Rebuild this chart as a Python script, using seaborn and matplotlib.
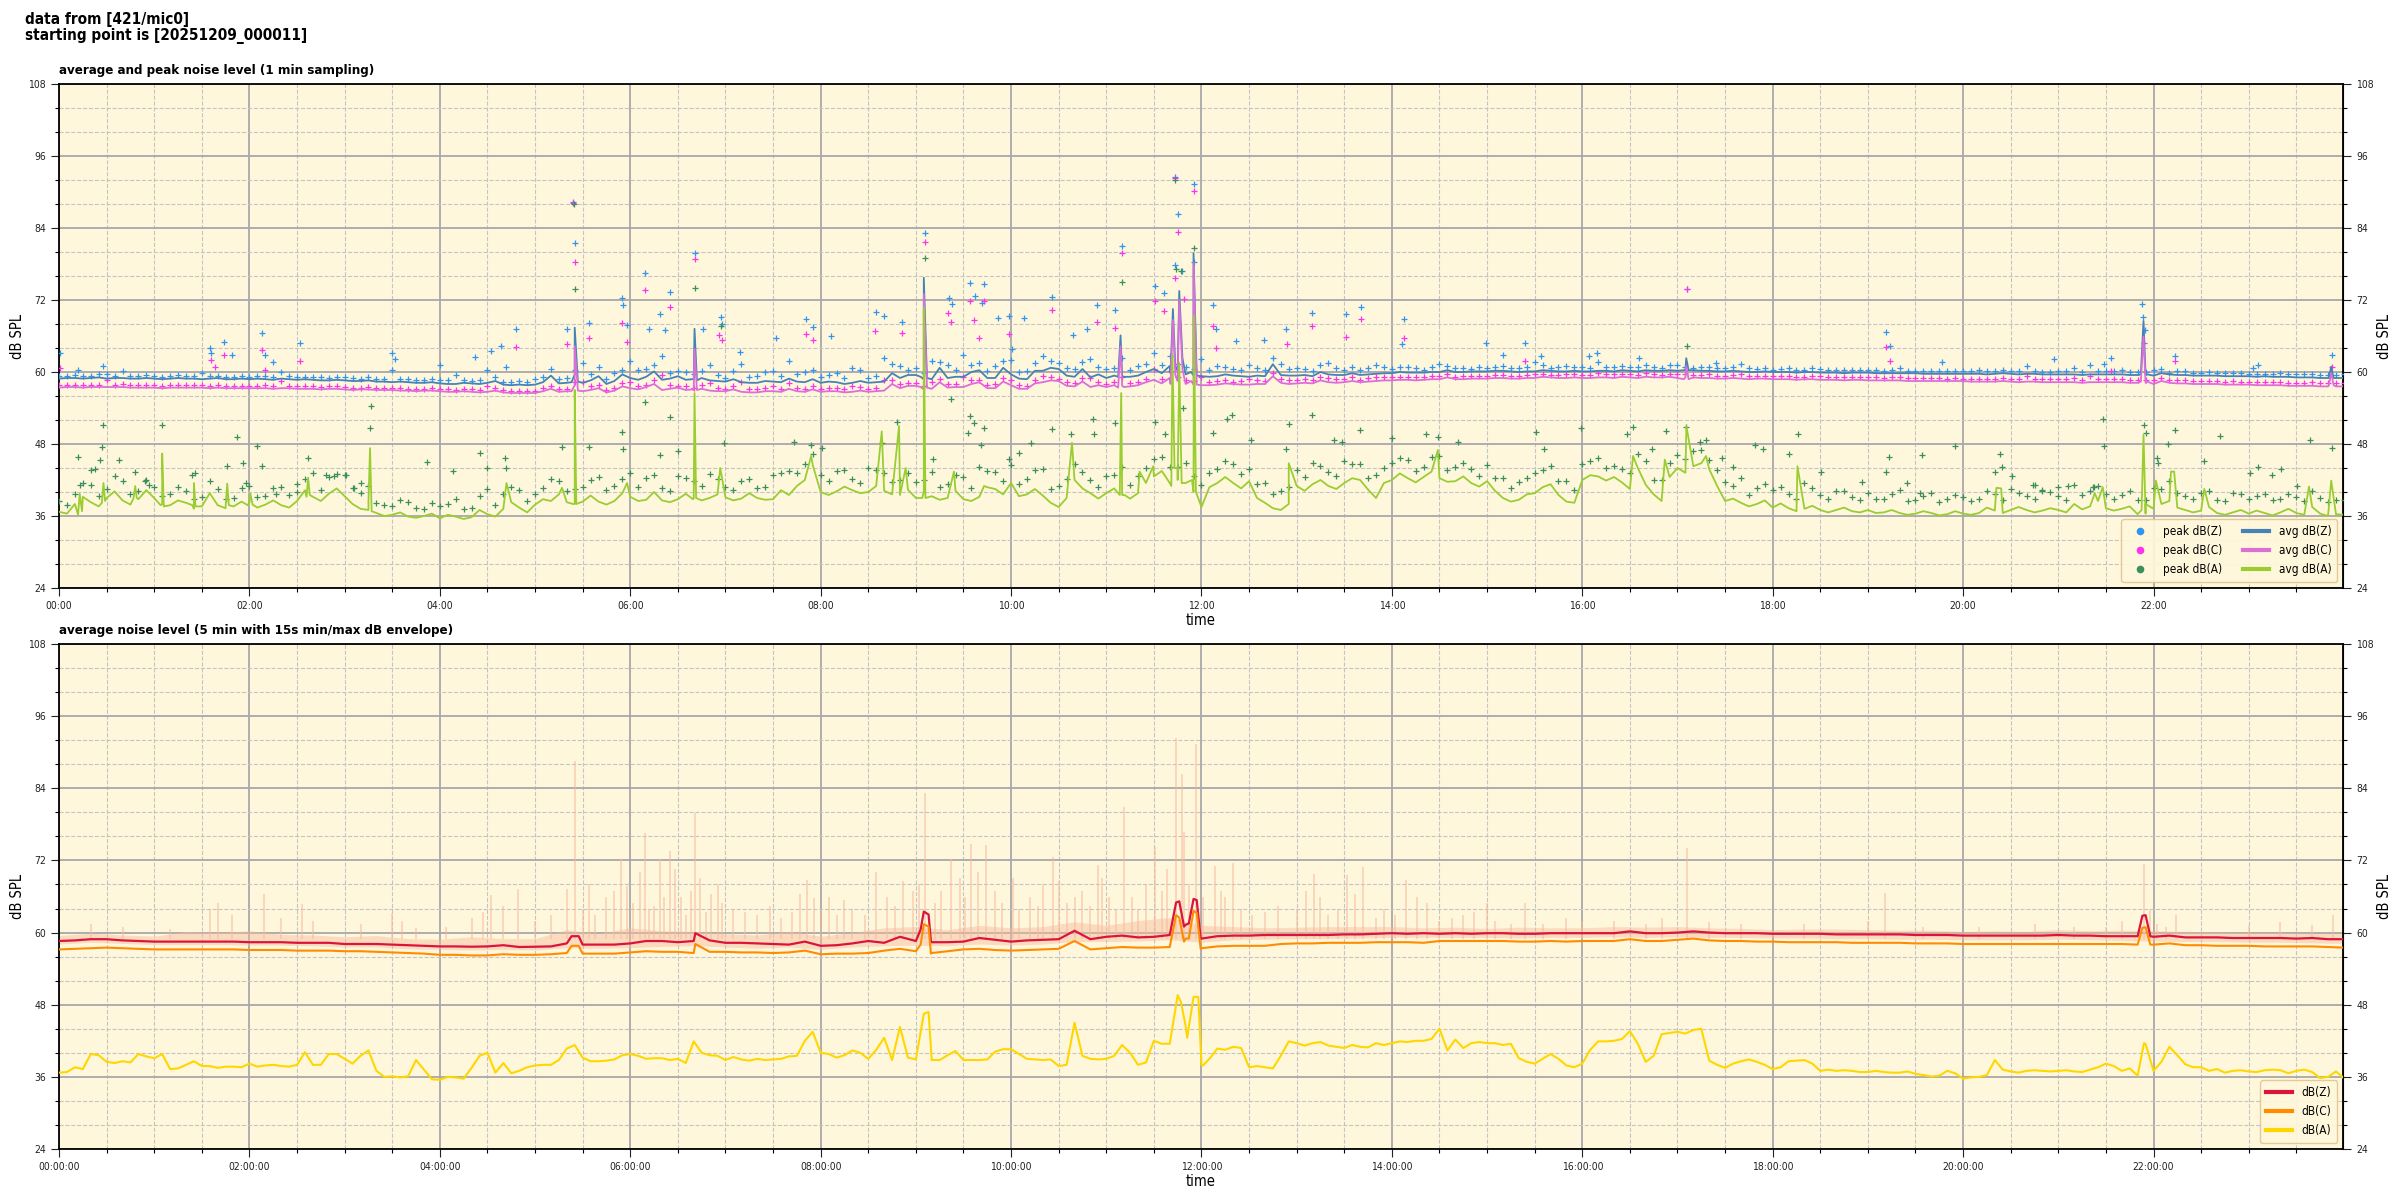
import numpy as np
import pandas as pd
import matplotlib
matplotlib.use("Agg")
import matplotlib.pyplot as plt
import matplotlib.dates as mdates
from matplotlib.lines import Line2D
from matplotlib.ticker import MultipleLocator
import seaborn as sns

plt.rcParams["font.family"] = ["DejaVu Sans"]
plt.rcParams["font.stretch"] = "condensed"

START = pd.Timestamp("2025-12-09 00:00:00")
BASE_MIN = np.arange(0, 1441, 10)   # readings on the 10 min marks
MID_MIN = np.arange(5, 1440, 10)    # readings half way between them
ENV_MIN = np.arange(0, 1441, 20)    # 20 min steps for the envelope band

# ---------------- top panel: 1 min averages ----------------
avg_z = [
    58.9, 59.0, 59.0, 58.9, 59.0, 58.9,
    58.9, 58.9, 58.9, 58.8, 59.0, 58.8,
    58.8, 58.8, 58.9, 58.7, 58.7, 58.6,
    58.6, 58.5, 58.4, 58.3, 58.3, 58.2,
    58.1, 58.0, 58.1, 58.2, 57.9, 57.9,
    57.9, 59.4, 58.2, 58.2, 59.3, 58.5,
    59.0, 59.2, 58.7, 59.3, 58.8, 58.6,
    58.4, 58.3, 58.2, 58.4, 58.9, 58.3,
    58.2, 58.3, 58.2, 58.2, 58.4, 59.0,
    59.5, 58.8, 59.0, 59.2, 60.3, 59.0,
    59.6, 58.8, 60.2, 60.5, 59.2, 59.1,
    59.0, 59.3, 59.4, 60.5, 61.0, 59.6,
    59.3, 59.3, 59.4, 59.2, 59.3, 59.5,
    59.4, 59.3, 59.6, 59.5, 59.5, 59.7,
    59.8, 59.9, 59.9, 60.0, 60.0, 60.1,
    60.1, 60.2, 60.0, 60.1, 60.2, 60.1,
    60.1, 60.2, 60.1, 60.2, 60.3, 60.2,
    60.2, 60.3, 60.2, 60.1, 60.1, 60.0,
    60.0, 60.0, 60.0, 59.9, 59.9, 59.9,
    59.9, 59.8, 59.8, 59.8, 59.7, 59.7,
    59.7, 59.7, 59.7, 59.7, 59.7, 59.6,
    59.6, 59.6, 59.6, 59.6, 59.6, 59.5,
    59.4, 59.6, 59.5, 59.4, 59.4, 59.3,
    59.3, 59.3, 59.2, 59.1, 59.1, 59.0,
    59.0,
]
avg_z_mid = [
    59.0, 58.9, 59.1, 59.0, 58.9, 59.0,
    58.8, 59.0, 58.9, 58.9, 58.8, 58.9,
    58.9, 58.7, 58.8, 58.8, 58.6, 58.7,
    58.5, 58.6, 58.4, 58.4, 58.2, 58.3,
    58.0, 58.2, 58.0, 58.5, 57.8, 57.8,
    58.3, 58.1, 59.6, 58.6, 58.0, 59.6,
    58.7, 60.1, 58.9, 58.7, 59.0, 58.5,
    58.8, 58.2, 58.5, 58.3, 58.4, 58.8,
    58.4, 58.0, 58.5, 58.3, 59.8, 59.5,
    58.8, 60.7, 59.2, 60.0, 59.0, 60.7,
    58.9, 60.2, 60.7, 59.4, 60.5, 59.6,
    59.4, 59.2, 60.0, 59.8, 60.2, 59.4,
    59.2, 59.6, 59.3, 59.4, 61.3, 59.4,
    59.5, 60.0, 59.5, 59.8, 59.6, 59.8,
    60.0, 59.9, 60.0, 60.3, 60.0, 60.1,
    60.2, 60.1, 60.1, 60.3, 60.1, 60.2,
    60.1, 60.2, 60.3, 60.1, 60.2, 60.3,
    60.3, 60.2, 60.1, 60.2, 60.0, 60.1,
    60.0, 59.9, 60.0, 59.9, 59.8, 59.9,
    59.8, 59.8, 59.8, 59.7, 59.7, 59.7,
    59.7, 59.6, 59.8, 59.6, 59.7, 59.6,
    59.6, 59.5, 59.6, 59.6, 59.5, 59.5,
    59.8, 59.5, 59.4, 59.4, 59.3, 59.3,
    59.2, 59.2, 59.2, 59.1, 59.0, 59.0,
]
avg_c = [
    57.4, 57.5, 57.5, 57.5, 57.5, 57.4,
    57.4, 57.4, 57.4, 57.4, 57.4, 57.3,
    57.3, 57.3, 57.3, 57.2, 57.2, 57.2,
    57.1, 57.1, 57.0, 57.0, 56.9, 56.9,
    56.8, 56.7, 56.7, 56.7, 56.6, 56.5,
    56.5, 57.2, 56.8, 56.8, 57.3, 56.9,
    57.3, 57.5, 57.0, 57.4, 57.0, 56.9,
    56.8, 56.7, 56.6, 56.8, 57.2, 56.7,
    56.7, 56.8, 56.7, 56.7, 56.9, 57.3,
    57.7, 57.2, 57.4, 57.5, 58.3, 57.3,
    57.8, 57.2, 58.3, 58.5, 57.6, 57.5,
    57.5, 57.7, 57.8, 58.7, 59.0, 58.0,
    57.8, 57.9, 58.0, 57.9, 58.0, 58.2,
    58.1, 58.1, 58.3, 58.3, 58.3, 58.5,
    58.6, 58.7, 58.7, 58.8, 58.8, 58.9,
    58.9, 59.0, 58.9, 59.0, 59.1, 59.0,
    59.0, 59.1, 59.0, 59.1, 59.2, 59.1,
    59.0, 59.1, 59.0, 58.9, 58.9, 58.9,
    58.8, 58.8, 58.8, 58.7, 58.7, 58.7,
    58.6, 58.6, 58.6, 58.5, 58.5, 58.5,
    58.5, 58.4, 58.4, 58.4, 58.4, 58.3,
    58.3, 58.3, 58.3, 58.3, 58.3, 58.2,
    58.0, 58.2, 58.1, 58.0, 58.0, 57.9,
    57.9, 57.8, 57.8, 57.7, 57.7, 57.6,
    57.6,
]
avg_c_mid = [
    57.5, 57.4, 57.5, 57.5, 57.4, 57.4,
    57.3, 57.4, 57.4, 57.3, 57.3, 57.3,
    57.3, 57.2, 57.3, 57.2, 57.1, 57.2,
    57.0, 57.1, 57.0, 56.9, 56.8, 56.9,
    56.7, 56.8, 56.6, 56.9, 56.5, 56.5,
    56.8, 56.7, 57.8, 57.0, 56.6, 57.6,
    57.1, 58.0, 57.2, 57.0, 57.2, 56.8,
    57.1, 56.6, 56.8, 56.7, 56.8, 57.1,
    56.8, 56.6, 56.9, 56.8, 58.0, 57.7,
    57.1, 58.3, 57.5, 58.0, 57.3, 58.4,
    57.2, 58.1, 58.6, 57.7, 58.4, 57.8,
    57.8, 57.6, 58.3, 58.1, 58.5, 57.9,
    57.8, 58.1, 57.9, 58.0, 59.3, 58.0,
    58.2, 58.6, 58.2, 58.5, 58.4, 58.6,
    58.7, 58.6, 58.8, 59.1, 58.8, 58.9,
    59.0, 58.9, 59.0, 59.2, 59.0, 59.1,
    59.0, 59.1, 59.2, 59.0, 59.1, 59.2,
    59.1, 59.0, 58.9, 59.0, 58.8, 58.9,
    58.8, 58.7, 58.8, 58.7, 58.6, 58.7,
    58.6, 58.6, 58.5, 58.5, 58.5, 58.5,
    58.4, 58.4, 58.5, 58.3, 58.4, 58.3,
    58.3, 58.2, 58.3, 58.3, 58.2, 58.2,
    58.5, 58.1, 58.0, 58.0, 57.9, 57.9,
    57.8, 57.8, 57.7, 57.7, 57.6, 57.6,
]
avg_a = [
    36.7, 38.0, 38.3, 39.0, 38.6, 38.8,
    39.0, 37.8, 38.2, 37.6, 37.8, 37.6,
    38.2, 37.9, 37.8, 38.5, 39.2, 39.7,
    39.3, 37.2, 36.5, 36.2, 35.9, 36.0,
    35.6, 35.9, 35.8, 36.3, 37.2, 37.4,
    37.9, 38.5, 38.3, 38.4, 38.4, 38.5,
    39.2, 38.7, 38.6, 38.8, 38.9, 39.0,
    39.1, 38.9, 39.0, 38.8, 39.5, 42.0,
    40.0, 40.1, 40.3, 40.0, 40.2, 39.5,
    39.0, 39.3, 39.0, 38.8, 39.2, 40.5,
    41.5, 39.6, 39.4, 37.5, 42.0, 39.8,
    39.8, 39.5, 39.8, 42.6, 41.5, 41.5,
    37.5, 41.5, 41.5, 41.8, 38.2, 37.0,
    41.0, 41.3, 41.0, 41.5, 42.0, 39.0,
    42.0, 42.3, 42.5, 42.3, 41.8, 41.5,
    41.8, 39.0, 38.7, 39.8, 41.3, 38.4,
    42.0, 42.6, 42.5, 40.5, 41.2, 38.5,
    44.0, 44.3, 43.8, 38.5, 38.2, 38.0,
    37.4, 37.3, 37.2, 37.0, 37.0, 36.8,
    37.0, 36.6, 36.5, 36.4, 36.5, 36.3,
    36.4, 36.5, 36.9, 37.0, 37.0, 36.9,
    37.0, 38.0, 37.6, 37.3, 37.2, 36.3,
    37.2, 38.5, 37.0, 36.9, 36.5, 36.6,
    36.4, 36.5, 36.6, 36.5, 37.5, 36.0,
    36.2,
]
avg_a_mid = [
    36.4, 39.2, 37.6, 40.1, 37.9, 40.3,
    38.0, 38.6, 37.2, 39.8, 37.3, 38.4,
    37.4, 38.6, 37.4, 40.3, 38.5, 40.6,
    38.0, 38.4, 36.0, 36.6, 35.7, 36.4,
    36.2, 35.5, 37.0, 35.9, 38.3, 36.6,
    38.8, 39.6, 38.0, 39.4, 37.9, 39.8,
    38.5, 40.0, 38.3, 39.7, 38.6, 39.6,
    38.6, 39.8, 38.7, 40.3, 41.0, 44.5,
    39.5, 40.9, 39.8, 41.0, 39.6, 40.4,
    40.0, 38.7, 40.2, 38.5, 40.8, 39.6,
    39.3, 40.5, 38.2, 39.0, 40.6, 38.9,
    40.6, 38.9, 41.5, 43.5, 42.0, 40.0,
    40.8, 42.5, 40.6, 39.0, 37.3, 38.0,
    40.2, 42.0, 40.5, 42.3, 40.4, 41.5,
    43.1, 41.6, 43.4, 41.7, 42.6, 40.9,
    40.2, 38.4, 39.6, 40.8, 39.5, 38.2,
    42.8, 41.9, 41.6, 44.0, 39.6, 42.5,
    43.2, 44.8, 41.0, 38.9, 37.6, 38.6,
    38.1, 36.8, 37.7, 36.6, 37.4, 36.6,
    36.5, 37.0, 36.2, 36.8, 36.1, 36.8,
    36.2, 37.4, 36.5, 37.5, 36.6, 37.3,
    36.6, 37.1, 38.5, 36.9, 37.6, 36.4,
    38.0, 37.4, 36.6, 37.5, 36.2, 37.0,
    36.9, 36.1, 37.2, 36.2, 36.4, 36.3,
]

# short events on the Z / C average lines (minute, dB(Z), dB(C))
zc_spike_min = [323, 325, 327, 399, 400.5, 402, 543, 545, 547, 667.5, 669, 671,
                700.5, 702, 703.5, 705, 706, 708, 713.5, 715, 717,
                1024, 1025.5, 1027, 1312, 1313.7, 1316, 1430.5, 1432, 1433.5]
zc_spike_z = [58.3, 67.4, 58.4, 58.8, 67.2, 58.6, 59.2, 75.7, 59.0, 59.2, 66.1, 59.2,
              59.8, 70.5, 61.0, 60.5, 73.5, 62.3, 60.0, 79.8, 59.4,
              60.3, 62.3, 60.3, 59.6, 68.5, 59.6, 59.0, 60.9, 59.0]
zc_spike_c = [56.8, 64.3, 56.9, 57.1, 63.8, 57.0, 57.5, 73.0, 57.4, 57.4, 64.3, 57.5,
              58.0, 68.7, 59.5, 59.0, 72.0, 60.5, 58.5, 78.2, 57.9,
              58.8, 61.0, 58.8, 58.4, 65.9, 58.4, 57.8, 59.8, 57.8]

# short events on the A average line
a_spike_min = [12, 13, 14.5, 27, 28, 29, 47, 48, 49, 64, 65, 66, 84, 85, 86,
               105, 106, 107, 119, 120.5, 122, 156, 157, 158, 195, 196, 197,
               282, 317, 324, 325, 326, 358, 399.5, 400.5, 401.5,
               416.7, 474, 518.5, 529.4, 533.6, 544, 545, 546, 564, 583, 638.4,
               668.5, 669.4, 671.5, 681, 689.6, 701, 701.7, 703, 704.9, 706, 707.5,
               714, 715.2, 716.5, 775, 869, 992, 1012, 1025.6, 1038, 1095.6,
               1221, 1224, 1283, 1288, 1312.5, 1313.7, 1315,
               1321.5, 1331, 1333, 1352, 1418, 1432]
a_spike_val = [36.2, 39.7, 36.8, 38.2, 41.5, 38.5, 39.0, 41.0, 39.0, 37.8, 46.4, 37.6,
               37.8, 41.5, 37.6, 37.6, 41.4, 37.8, 37.8, 39.8, 37.9, 39.2, 42.4, 39.5,
               37.0, 47.3, 36.8, 41.5, 40.7, 38.0, 57.0, 38.0, 41.5, 38.8, 56.5, 39.0,
               44.0, 46.0, 50.1, 51.0, 44.0, 39.0, 70.7, 39.0, 43.4, 41.0, 48.2,
               39.5, 56.5, 39.5, 43.4, 44.3, 41.0, 62.9, 44.0, 44.0, 61.5, 41.5,
               42.0, 69.4, 40.0, 44.8, 47.0, 46.0, 45.4, 51.0, 46.0, 44.3,
               40.7, 40.6, 39.8, 40.8, 37.0, 49.5, 38.0,
               41.9, 43.4, 43.4, 40.5, 40.9, 41.9]

# ---------------- top panel: 1 min peaks ----------------
peak_z = [
    59.3, 59.5, 59.4, 59.6, 60.1, 59.3,
    59.3, 59.4, 59.3, 59.9, 59.4, 59.2,
    59.2, 59.3, 60.0, 59.1, 59.1, 59.0,
    59.1, 58.9, 58.8, 60.3, 58.8, 58.6,
    58.7, 59.5, 58.5, 60.4, 58.4, 58.5,
    58.8, 60.5, 59.0, 61.5, 60.9, 59.9,
    61.8, 60.5, 62.6, 60.2, 59.6, 61.2,
    59.0, 61.4, 59.3, 60.2, 61.8, 60.0,
    59.1, 59.8, 60.6, 59.0, 62.3, 61.0,
    60.6, 61.9, 61.1, 62.8, 61.5, 61.0,
    62.0, 60.2, 62.6, 61.5, 60.5, 62.1,
    60.5, 62.4, 61.0, 63.2, 62.6, 60.8,
    62.2, 61.0, 60.5, 61.2, 60.3, 61.4,
    60.6, 60.2, 61.5, 60.4, 60.3, 61.2,
    60.5, 60.8, 60.4, 61.3, 60.6, 60.5,
    60.7, 61.0, 60.6, 61.6, 60.7, 61.0,
    60.9, 61.7, 60.8, 60.8, 61.2, 60.7,
    61.2, 60.7, 60.9, 60.6, 61.4, 60.5,
    60.4, 60.6, 60.3, 60.5, 60.4, 60.3,
    60.3, 60.2, 60.6, 60.2, 60.2, 60.1,
    60.1, 60.3, 60.1, 60.1, 61.0, 60.0,
    60.1, 60.6, 61.2, 60.1, 60.4, 60.0,
    60.3, 59.9, 60.2, 59.8, 59.8, 59.9,
    59.7, 59.7, 59.9, 59.6, 59.7, 59.5,
    59.6,
]
peak_z_mid = [
    59.4, 59.3, 59.6, 59.4, 59.3, 59.5,
    59.2, 59.5, 59.4, 59.3, 59.2, 59.4,
    59.4, 59.2, 59.3, 59.2, 59.1, 59.2,
    59.0, 59.1, 58.9, 58.9, 58.7, 58.8,
    58.6, 58.7, 58.6, 59.2, 58.4, 58.4,
    59.1, 58.9, 60.3, 59.6, 58.9, 60.4,
    60.3, 61.2, 59.8, 60.0, 60.1, 59.5,
    60.2, 59.1, 60.0, 59.3, 59.7, 60.4,
    59.5, 59.0, 60.3, 59.4, 61.3, 60.4,
    59.9, 61.6, 60.3, 61.2, 60.1, 61.9,
    60.0, 61.5, 61.8, 60.6, 61.7, 60.8,
    60.6, 60.4, 61.3, 61.2, 61.4, 60.5,
    60.3, 60.9, 60.3, 60.6, 62.4, 60.5,
    60.5, 61.1, 60.6, 60.9, 60.6, 60.9,
    60.9, 60.6, 60.8, 61.0, 60.7, 60.8,
    60.9, 60.7, 60.8, 61.2, 60.8, 60.9,
    60.7, 60.9, 61.0, 60.8, 60.9, 61.1,
    60.9, 60.8, 60.7, 60.9, 60.6, 60.7,
    60.5, 60.4, 60.6, 60.4, 60.3, 60.4,
    60.3, 60.3, 60.2, 60.2, 60.2, 60.2,
    60.2, 60.1, 60.3, 60.1, 60.1, 60.0,
    60.1, 60.0, 60.2, 60.1, 60.0, 60.0,
    60.5, 60.1, 59.9, 60.0, 59.8, 59.8,
    59.7, 59.7, 59.7, 59.6, 59.5, 59.5,
]
peak_c = [
    57.8, 57.9, 57.8, 58.6, 58.0, 57.9,
    57.8, 57.9, 57.8, 57.8, 57.9, 57.7,
    57.7, 57.8, 58.5, 57.6, 57.6, 57.6,
    57.5, 57.4, 57.4, 57.3, 57.2, 57.2,
    57.1, 57.0, 57.2, 57.7, 57.0, 56.9,
    56.9, 57.6, 57.2, 58.4, 57.8, 57.3,
    58.3, 57.9, 59.5, 57.6, 57.4, 58.2,
    57.2, 58.3, 57.1, 57.6, 58.2, 57.2,
    57.1, 57.4, 57.6, 57.1, 58.6, 58.0,
    58.1, 58.3, 58.0, 59.2, 58.6, 58.0,
    58.6, 57.7, 59.4, 58.9, 58.1, 59.0,
    58.0, 59.2, 58.4, 60.5, 60.2, 58.6,
    59.1, 58.5, 58.4, 58.9, 58.5, 58.9,
    58.7, 58.6, 59.0, 58.8, 58.7, 59.2,
    59.1, 59.2, 59.1, 59.4, 59.2, 59.3,
    59.3, 59.5, 59.4, 59.7, 59.5, 59.6,
    59.5, 59.8, 59.6, 59.6, 59.8, 59.5,
    59.6, 59.5, 59.6, 59.4, 59.6, 59.4,
    59.3, 59.3, 59.2, 59.3, 59.2, 59.1,
    59.1, 59.0, 59.2, 59.0, 59.0, 58.9,
    58.9, 58.9, 58.8, 58.9, 59.4, 58.8,
    58.8, 59.0, 59.4, 58.8, 58.9, 58.7,
    58.6, 58.6, 58.7, 58.5, 58.5, 58.5,
    58.4, 58.3, 58.4, 58.2, 58.3, 58.1,
    58.2,
]
peak_c_mid = [
    57.9, 57.8, 57.9, 57.9, 57.8, 57.8,
    57.7, 57.8, 57.8, 57.7, 57.7, 57.7,
    57.7, 57.6, 57.7, 57.6, 57.5, 57.6,
    57.4, 57.5, 57.4, 57.3, 57.2, 57.3,
    57.1, 57.2, 57.0, 57.4, 56.9, 56.9,
    57.3, 57.1, 58.4, 57.6, 57.0, 58.2,
    57.6, 58.6, 57.8, 57.6, 57.8, 57.3,
    57.7, 57.1, 57.4, 57.2, 57.3, 57.7,
    57.3, 57.1, 57.5, 57.3, 58.6, 58.2,
    57.7, 58.9, 58.0, 58.7, 57.9, 59.0,
    57.8, 58.7, 59.2, 58.3, 59.0, 58.4,
    58.4, 58.2, 58.9, 58.8, 59.1, 58.5,
    58.4, 58.7, 58.5, 58.6, 59.9, 58.6,
    58.8, 59.1, 58.8, 59.1, 59.0, 59.2,
    59.2, 59.1, 59.3, 59.6, 59.3, 59.4,
    59.5, 59.4, 59.5, 59.7, 59.5, 59.6,
    59.5, 59.6, 59.7, 59.5, 59.6, 59.7,
    59.6, 59.5, 59.4, 59.5, 59.3, 59.4,
    59.3, 59.2, 59.3, 59.2, 59.1, 59.2,
    59.1, 59.1, 59.0, 59.0, 59.0, 59.0,
    58.9, 58.9, 59.0, 58.8, 58.9, 58.8,
    58.8, 58.7, 58.8, 58.8, 58.7, 58.7,
    59.0, 58.6, 58.5, 58.5, 58.4, 58.4,
    58.3, 58.3, 58.2, 58.2, 58.1, 58.1,
]
peak_a = [
    38.5, 39.6, 41.2, 40.5, 41.8, 40.2,
    40.8, 39.6, 40.1, 39.2, 40.5, 39.0,
    41.0, 39.4, 40.8, 41.3, 43.2, 42.5,
    42.8, 39.8, 38.2, 37.6, 38.4, 37.2,
    37.6, 38.9, 37.4, 40.5, 39.7, 40.3,
    39.6, 42.1, 40.2, 40.8, 42.5, 41.0,
    43.2, 42.3, 40.7, 42.6, 41.8, 43.0,
    40.9, 41.8, 40.6, 42.8, 43.5, 44.6,
    42.9, 43.5, 42.2, 44.0, 43.1, 42.0,
    41.6, 43.4, 41.3, 42.5, 44.2, 43.3,
    44.5, 42.2, 43.8, 41.0, 44.6, 42.0,
    42.7, 44.1, 42.6, 45.5, 44.2, 44.8,
    41.1, 43.8, 44.6, 43.9, 41.5, 40.2,
    43.6, 44.8, 43.4, 45.2, 44.6, 42.8,
    44.9, 45.3, 44.1, 46.0, 44.2, 43.8,
    44.5, 42.3, 41.6, 43.2, 44.4, 41.8,
    44.7, 45.6, 44.3, 43.2, 45.1, 42.0,
    46.1, 46.8, 45.3, 41.7, 42.4, 40.6,
    40.3, 39.6, 41.5, 39.5, 40.1, 39.2,
    39.8, 38.9, 40.3, 38.6, 39.9, 38.8,
    39.1, 38.8, 39.7, 40.5, 39.4, 40.2,
    39.3, 41.2, 40.2, 39.6, 39.5, 38.7,
    40.6, 41.8, 39.4, 39.9, 38.6, 39.8,
    38.9, 39.6, 38.8, 39.2, 40.1, 38.4,
    38.7,
]
peak_a_mid = [
    37.8, 41.5, 39.3, 42.6, 39.7, 42.0,
    39.4, 40.9, 38.8, 41.8, 38.9, 40.6,
    39.2, 40.7, 39.5, 42.1, 40.4, 43.0,
    40.6, 41.0, 37.8, 38.6, 37.3, 38.1,
    38.0, 37.2, 39.4, 37.8, 40.9, 38.5,
    40.7, 41.9, 40.5, 42.0, 40.4, 42.2,
    40.8, 42.9, 40.2, 42.4, 41.0, 42.1,
    40.3, 42.2, 40.8, 43.1, 43.2, 46.3,
    41.8, 43.7, 41.5, 43.6, 41.7, 43.2,
    42.0, 40.8, 42.9, 40.6, 43.5, 41.9,
    41.4, 43.6, 40.5, 42.1, 43.4, 40.8,
    42.9, 41.2, 44.0, 45.8, 44.1, 42.7,
    43.2, 45.1, 43.0, 41.4, 39.6, 40.8,
    42.5, 44.3, 42.6, 44.6, 42.3, 44.0,
    45.6, 43.5, 45.9, 43.6, 44.8, 42.6,
    42.4, 40.6, 42.4, 43.7, 41.8, 40.3,
    45.2, 44.0, 43.8, 46.4, 42.0, 44.9,
    45.5, 47.0, 43.6, 41.0, 39.5, 41.3,
    40.8, 38.9, 40.6, 38.8, 40.2, 38.7,
    38.9, 39.6, 38.5, 39.4, 38.3, 39.5,
    38.5, 40.2, 38.7, 39.8, 38.9, 40.0,
    38.7, 39.5, 41.0, 38.9, 40.1, 38.6,
    40.5, 39.8, 38.9, 40.2, 38.5, 39.6,
    39.3, 38.6, 39.7, 38.5, 39.0, 38.7,
]
# isolated peaks above the bands (minute, dB)
peak_z_extra = [
    (0.6, 63.2), (12, 60.4), (28, 61.0), (95, 64.0), (96, 63.1), (104, 65.0), (109, 62.9),
    (128, 66.5), (130, 62.9), (135, 61.6), (152, 64.8), (210, 63.2), (212, 62.2),
    (240, 61.2), (262, 62.5), (272, 63.5), (278.7, 64.3), (282, 60.9), (288, 67.2),
    (320, 67.1), (324, 88.4), (325.4, 81.5), (334, 68.2), (354.6, 72.3), (355.5, 71.2),
    (358, 67.9), (369, 76.5), (372, 67.1), (378.6, 69.6), (382, 67.0), (385, 73.4),
    (400.8, 79.8), (406, 67.2), (417, 69.2), (418, 68.0), (429, 63.4), (452, 65.6),
    (471, 68.8), (475, 67.5), (486.5, 66.0), (514.8, 70.0), (520, 69.3), (531, 68.4),
    (545.5, 83.2), (561, 72.3), (563, 71.4), (574, 74.8), (577, 72.6), (581.8, 71.5),
    (583, 74.6), (591.6, 69.0), (599, 69.3), (600.5, 63.8), (608, 69.0), (625.6, 72.5),
    (638.8, 66.1), (647.6, 67.2), (654, 71.1), (665.7, 70.3), (670, 81.0), (690.8, 74.4),
    (696.5, 73.1), (703, 92.5), (703.4, 77.9), (705.5, 86.3), (708, 76.8), (715.4, 78.3),
    (715.6, 91.3), (727, 71.1), (729.4, 67.1), (741.6, 65.1), (759.4, 65.4), (773.5, 67.2),
    (789.8, 69.8), (810.8, 69.7), (820.7, 70.8), (846.5, 64.6), (847.5, 68.8), (899.6, 64.8),
    (909.8, 62.9), (923.6, 64.8), (934, 62.7), (964, 62.7), (969, 63.2), (996, 62.3),
    (1026, 73.9), (1044, 61.5), (1151.5, 66.7), (1154, 64.4), (1187, 61.7), (1257.6, 62.2),
    (1289, 61.4), (1293, 62.4), (1313, 71.3), (1313.5, 69.1), (1314.8, 67.0),
    (1333.4, 62.7), (1383, 60.6), (1386, 61.1), (1432.5, 62.8),
]
peak_c_extra = [
    (0.6, 60.7), (96, 62.0), (98, 60.9), (104, 62.8), (128, 63.7), (130, 60.4), (152, 61.8),
    (288, 64.2), (320, 64.7), (324, 88.2), (325.4, 78.4), (334, 65.7), (354.6, 68.2),
    (358, 65.0), (369, 73.6), (385, 70.9), (400.8, 78.8), (416, 66.2), (418, 65.4),
    (471, 66.3), (475, 65.4), (514, 66.8), (531, 66.5), (545.5, 81.6), (560, 69.8),
    (562, 68.4), (574, 71.8), (576.5, 68.7), (580, 65.7), (583, 71.8), (599, 66.4),
    (625.6, 70.4), (654, 68.3), (665.7, 67.3), (670, 79.8), (691, 71.9), (696.5, 70.1),
    (703, 92.3), (703.4, 75.7), (705.5, 83.3), (708.7, 72.2), (715.6, 90.2), (727.5, 67.6),
    (729.4, 64.0), (773.7, 64.7), (789.8, 67.6), (810.8, 65.8), (820.7, 68.8), (847.5, 65.7),
    (923.6, 61.8), (1026, 73.9), (1151.5, 64.2), (1154, 61.8), (1293, 60.1), (1314, 64.9),
    (1333.4, 61.8), (1432.5, 60.8),
]
peak_a_extra = [
    (28, 51.2), (65, 51.2), (112, 49.1), (196, 50.7), (196.5, 54.3), (12, 45.9), (27, 47.5),
    (26, 45.4), (125, 47.6), (128, 44.4), (106, 44.4), (116, 44.8), (157, 45.7), (38, 45.4),
    (20, 43.6), (22.5, 43.9), (84, 42.8), (85.5, 43.1), (48, 43.4), (54, 41.8), (168, 42.8),
    (173, 42.7), (181, 42.8), (190, 41.5), (13, 41.1), (57, 41.2), (118, 41.5), (137, 39.7),
    (150, 40.0), (186, 40.6), (232, 45.0), (248, 43.5), (265, 46.5), (270, 44.0),
    (324.6, 88.0), (325.4, 73.8), (400.8, 74.0), (545.5, 79.0), (417, 67.6), (369, 55.0),
    (385, 52.5), (354.6, 50.0), (355.5, 47.2), (574, 52.7), (576.5, 51.5), (583, 50.7),
    (581, 47.9), (562, 55.5), (528.4, 51.7), (518.5, 48.2), (463.5, 48.3), (474, 47.9),
    (481, 47.4), (317, 47.5), (334, 47.5), (419, 48.2), (281, 45.7), (282, 44.0),
    (390, 46.8), (378.6, 46.1), (551, 45.5), (573, 49.8),
    (703, 92.0), (703.8, 77.2), (707, 76.8), (715.6, 80.7), (670, 75.0), (708.5, 54.0),
    (690.8, 51.7), (697, 49.7), (651.8, 52.1), (665.7, 51.5), (625.6, 50.5), (637.8, 49.6),
    (736.4, 52.2), (739.5, 52.9), (727.5, 49.9), (775.2, 51.3), (789.8, 52.9), (808.7, 48.4),
    (820, 50.4), (839.8, 49.0), (861.2, 49.6), (869, 49.2), (881.7, 48.3), (773, 47.2),
    (751, 48.7), (803.5, 48.6), (599, 45.5), (605, 46.5), (612.6, 48.1), (652, 49.6),
    (931, 50.0), (959, 50.7), (992, 50.8), (1013, 50.1), (1026, 64.4), (1025.6, 50.8),
    (1034, 48.4), (1038, 48.6), (1096, 49.7), (1195, 47.6), (1069, 47.9), (1153, 45.8),
    (1174, 46.1), (988, 49.6), (1090, 46.4), (1074, 47.2), (935.6, 47.2), (1004, 47.2),
    (1110.5, 43.4), (1136, 41.6), (1230.6, 42.7), (1244, 41.2), (1260, 40.9),
    (1281.8, 40.8), (1151.5, 43.4), (1047.8, 45.7), (1055, 44.2), (1164.8, 41.5), (1173, 39.8),
    (1288, 52.1), (1313.7, 51.1), (1315, 49.8), (1333.4, 50.3), (1362, 49.3), (1418.8, 48.6),
    (1432.5, 47.4), (1223, 46.4), (1224.5, 44.1), (1220, 43.3), (1289, 47.6), (1329, 48.0),
    (1351.8, 45.1), (1381, 43.1), (1386, 44.2), (1394.8, 42.8), (1400.4, 43.8), (1322.5, 45.6),
    (1323, 44.8), (1410.5, 41.0), (1245, 41.2), (1250, 40.3), (1266, 41.0), (1282.7, 40.9),
]

# ---------------- bottom panel: 5 min averages ----------------
avg5_z = [
    58.6, 58.7, 58.9, 58.9, 58.7, 58.6,
    58.5, 58.5, 58.5, 58.5, 58.5, 58.5,
    58.4, 58.4, 58.4, 58.3, 58.3, 58.3,
    58.1, 58.1, 58.1, 58.0, 57.9, 57.8,
    57.7, 57.7, 57.65, 57.7, 57.9, 57.6,
    57.65, 57.7, 58.2, 58.0, 58.0, 58.0,
    58.2, 58.6, 58.6, 58.4, 58.6, 58.7,
    58.3, 58.3, 58.2, 58.1, 58.0, 58.5,
    57.8, 57.9, 58.2, 58.6, 58.3, 59.3,
    58.6, 58.4, 58.4, 58.5, 59.1, 58.8,
    58.5, 58.7, 58.8, 58.9, 60.3, 58.9,
    59.3, 59.5, 59.2, 59.3, 59.6, 61.3,
    59.0, 59.4, 59.5, 59.5, 59.6, 59.6,
    59.6, 59.6, 59.6, 59.7, 59.7, 59.8,
    59.9, 59.8, 59.9, 59.8, 59.9, 59.8,
    59.9, 59.9, 59.8, 59.8, 59.9, 59.9,
    59.9, 59.9, 59.9, 60.2, 59.9, 59.9,
    60.0, 60.2, 60.0, 59.9, 59.9, 59.9,
    59.8, 59.8, 59.8, 59.8, 59.7, 59.7,
    59.7, 59.7, 59.7, 59.6, 59.6, 59.6,
    59.5, 59.5, 59.5, 59.5, 59.5, 59.5,
    59.6, 59.5, 59.5, 59.4, 59.4, 59.4,
    59.3, 59.5, 59.2, 59.2, 59.2, 59.1,
    59.1, 59.1, 59.1, 59.0, 59.1, 58.9,
    58.9,
]
avg5_c = [
    57.2, 57.3, 57.4, 57.5, 57.4, 57.3,
    57.2, 57.2, 57.2, 57.2, 57.2, 57.2,
    57.1, 57.1, 57.1, 57.0, 57.0, 57.0,
    56.9, 56.9, 56.8, 56.7, 56.6, 56.5,
    56.3, 56.3, 56.2, 56.2, 56.4, 56.3,
    56.3, 56.4, 56.6, 56.5, 56.5, 56.5,
    56.7, 56.9, 56.8, 56.8, 56.6, 56.8,
    56.8, 56.7, 56.7, 56.6, 56.7, 57.0,
    56.4, 56.5, 56.5, 56.6, 57.0, 57.3,
    56.9, 56.6, 56.9, 57.2, 57.3, 57.1,
    57.0, 57.1, 57.2, 57.3, 58.6, 57.2,
    57.4, 57.6, 57.5, 57.5, 57.6, 59.0,
    57.4, 57.7, 57.8, 57.8, 57.8, 58.1,
    58.2, 58.2, 58.3, 58.3, 58.3, 58.4,
    58.4, 58.4, 58.3, 58.6, 58.6, 58.6,
    58.6, 58.6, 58.5, 58.5, 58.6, 58.5,
    58.6, 58.6, 58.6, 58.9, 58.6, 58.6,
    58.8, 59.0, 58.7, 58.6, 58.6, 58.5,
    58.5, 58.4, 58.4, 58.4, 58.4, 58.3,
    58.3, 58.3, 58.3, 58.2, 58.2, 58.2,
    58.1, 58.1, 58.1, 58.1, 58.1, 58.1,
    58.1, 58.1, 58.1, 58.1, 58.1, 58.0,
    58.0, 58.2, 57.9, 57.9, 57.8, 57.8,
    57.8, 57.7, 57.7, 57.7, 57.7, 57.6,
    57.5,
]
avg5_a = [
    36.7, 37.6, 39.8, 38.5, 38.6, 39.8,
    39.1, 37.3, 38.0, 37.8, 37.5, 37.7,
    38.2, 37.9, 37.8, 38.0, 38.0, 39.8,
    39.0, 39.5, 37.0, 36.1, 36.1, 37.2,
    35.5, 35.9, 37.5, 40.0, 38.3, 37.0,
    37.9, 38.0, 40.7, 39.2, 38.6, 38.9,
    39.8, 39.0, 39.1, 39.0, 41.9, 39.6,
    38.8, 38.9, 39.0, 38.9, 39.4, 42.0,
    40.0, 39.2, 40.4, 39.0, 42.5, 44.3,
    38.9, 38.8, 39.6, 38.8, 38.8, 40.2,
    40.6, 39.0, 38.8, 37.8, 45.0, 39.0,
    39.0, 41.3, 38.0, 42.0, 41.5, 44.5,
    38.0, 40.7, 41.0, 37.6, 37.6, 39.5,
    41.6, 41.6, 41.2, 40.8, 41.0, 41.6,
    41.6, 41.8, 42.0, 44.0, 42.2, 41.6,
    41.6, 41.3, 39.1, 38.2, 39.8, 37.9,
    38.2, 41.9, 42.0, 43.6, 38.5, 43.1,
    43.5, 43.8, 38.7, 37.5, 38.6, 38.5,
    37.3, 38.6, 38.8, 37.0, 37.0, 37.0,
    36.8, 36.8, 36.7, 36.5, 36.05, 37.0,
    35.7, 36.0, 38.8, 36.9, 37.0, 37.0,
    37.0, 36.9, 37.2, 38.2, 37.0, 36.2,
    37.0, 41.0, 38.1, 37.6, 37.3, 37.0,
    36.9, 37.1, 37.1, 37.0, 36.8, 36.0,
    35.8,
]
avg5_a_mid = [
    36.8, 37.3, 39.6, 38.3, 38.4, 39.4,
    39.8, 37.4, 38.6, 37.8, 37.7, 37.6,
    37.7, 38.0, 37.7, 40.1, 38.0, 39.8,
    38.2, 40.4, 36.0, 35.9, 38.8, 35.6,
    36.0, 35.7, 39.5, 36.7, 36.6, 37.6,
    38.0, 38.8, 41.3, 38.6, 38.7, 39.6,
    39.5, 39.1, 38.8, 38.3, 40.0, 39.5,
    39.3, 38.7, 38.8, 39.0, 39.5, 43.5,
    39.8, 39.6, 40.0, 40.5, 38.8, 39.2,
    46.5, 38.8, 40.3, 38.8, 38.9, 40.6,
    39.8, 38.9, 38.9, 38.0, 39.5, 38.9,
    39.5, 40.0, 38.4, 41.5, 49.6, 49.3,
    39.0, 40.5, 40.8, 37.8, 37.4, 41.9,
    41.2, 41.8, 41.0, 41.3, 40.9, 41.3,
    41.9, 42.0, 42.3, 40.4, 40.8, 41.8,
    41.6, 41.5, 38.5, 39.0, 39.0, 37.6,
    40.5, 41.9, 42.3, 41.5, 39.5, 43.3,
    43.2, 44.0, 38.0, 38.2, 38.9, 38.0,
    37.6, 38.7, 38.2, 37.2, 37.1, 36.8,
    37.0, 36.7, 36.9, 36.3, 36.2, 36.6,
    35.9, 36.3, 37.2, 36.7, 37.1, 36.9,
    37.1, 36.8, 37.6, 37.8, 37.4, 41.5,
    38.5, 39.6, 37.6, 37.0, 36.7, 37.1,
    36.8, 37.2, 36.6, 37.2, 35.8, 36.9,
]
# bumps in the 5 min averages (minute, dB(Z), dB(C))
avg5_spike_min = [323, 327.5, 401, 543, 545, 548, 549.5, 704, 706, 709, 712, 715, 717,
                  719.5, 1313, 1315, 1318]
avg5_spike_z = [59.4, 59.4, 59.9, 60.5, 63.5, 63.0, 58.5, 65.0, 65.2, 61.0, 61.5, 65.6, 65.4,
                59.0, 62.8, 62.9, 59.4]
avg5_spike_c = [57.8, 57.8, 58.1, 58.0, 61.4, 61.0, 56.5, 62.9, 62.5, 58.5, 59.0, 63.6, 63.3,
                57.3, 60.8, 60.9, 58.0]
avg5_a_spike_min = [548, 707, 711, 718, 721, 1314]
avg5_a_spike_val = [46.8, 48.5, 42.5, 49.3, 37.9, 41.6]

# 15 s min / max envelope of dB(Z)
env_lo = [
    58.1, 58.4, 58.2, 58.0, 58.0, 58.0, 57.9, 57.9, 57.8, 57.6, 57.6, 57.3,
    57.2, 57.1, 57.2, 57.1, 57.5, 57.4, 57.5, 57.7, 57.8, 57.6, 57.4, 57.6,
    57.2, 57.6, 57.8, 57.9, 57.8, 58.1, 57.9, 58.1, 58.5, 58.5, 58.6, 58.8,
    58.4, 58.8, 58.9, 59.0, 59.0, 59.1, 59.2, 59.2, 59.2, 59.2, 59.1, 59.2,
    59.2, 59.3, 59.2, 59.3, 59.2, 59.2, 59.1, 59.1, 59.0, 59.0, 58.9, 58.9,
    58.8, 58.8, 58.8, 58.9, 58.8, 58.7, 58.6, 58.5, 58.5, 58.4, 58.4, 58.3,
    58.2,
]
env_hi = [
    59.5, 59.9, 59.6, 59.4, 60.2, 60.0, 60.3, 59.7, 59.6, 59.3, 59.5, 59.0,
    58.9, 59.3, 59.0, 59.0, 60.5, 59.8, 60.8, 60.3, 60.2, 59.8, 59.6, 60.2,
    59.4, 60.0, 60.8, 61.0, 60.5, 61.2, 60.8, 61.0, 61.8, 61.2, 62.0, 62.5,
    61.2, 61.0, 60.8, 60.9, 61.0, 61.0, 61.0, 60.8, 60.9, 60.7, 60.9, 60.8,
    60.8, 61.0, 60.9, 61.0, 60.8, 60.7, 60.5, 60.6, 60.6, 60.5, 60.4, 60.4,
    60.2, 60.3, 60.2, 60.5, 60.3, 60.4, 60.3, 60.2, 60.1, 60.0, 60.0, 59.9,
    59.8,
]
env_spikes = [
    (20, 61.5), (40, 61.0), (70, 60.6), (95, 63.8), (100, 65.0), (109, 62.9), (129, 66.5),
    (140, 62.5), (153, 64.8), (160, 62.0), (190, 61.5), (210, 63.2), (216, 62.0), (225, 60.8),
    (244, 61.0), (260, 62.5), (267, 63.5), (272, 66.3), (280, 64.4), (289, 67.2), (300, 62.0),
    (310, 63.0), (320, 67.2), (325, 88.6), (334, 68.1), (345, 66.0), (354, 72.2), (358, 67.8),
    (362, 65.0), (369.6, 76.5), (375, 64.5), (379, 72.2), (385, 73.5), (392, 66.0), (395, 63.0),
    (401, 79.9), (404, 69.0), (411, 66.5), (418, 65.0), (425, 64.0), (440, 63.0), (455, 62.5),
    (471.5, 68.8), (476, 65.7), (490, 63.0), (500, 64.0), (515, 70.0), (522, 66.0), (532, 68.5),
    (538, 67.0), (546, 83.3), (552, 65.0), (562, 72.2), (568, 69.0), (575, 74.8), (584, 74.5),
    (590, 67.0), (601, 69.0), (612, 66.0), (620, 68.0), (626.5, 72.5), (635, 65.0), (645, 67.0),
    (654.6, 71.2), (662, 66.0), (671, 80.9), (680, 64.0), (691, 74.3), (695, 67.0), (704, 92.4),
    (707.6, 86.4), (709, 76.8), (716.6, 91.3), (728.5, 71.0), (735, 66.0), (745, 64.0),
    (760, 63.5), (780, 64.0), (791, 69.8), (800, 63.0), (812, 69.5), (822, 70.9), (830, 62.5),
    (848.6, 68.8), (870, 62.0), (885, 63.0), (899.7, 64.9), (923.8, 64.9), (950, 62.5),
    (980, 62.0), (1026, 74.1), (1060, 61.5), (1140, 62.0), (1151, 66.6), (1245, 61.5),
    (1290, 61.0), (1300, 62.0), (1313.8, 71.4), (1322, 61.5), (1334, 62.9), (1400, 61.8),
    (1433, 62.9),
    (330, 64.0), (338, 63.0), (350, 67.0), (366, 70.0), (372, 64.0), (381, 66.0), (388, 70.5),
    (398, 67.0), (408, 63.5), (415, 68.0), (432, 63.5), (448, 64.5), (462, 63.5), (467, 66.5),
    (480, 64.0), (485, 66.0), (495, 65.5), (508, 63.0), (527, 64.5), (542, 68.0), (556, 67.0),
    (571, 66.0), (579, 70.0), (594, 65.0), (605, 64.0), (617, 64.5), (630, 68.5), (640, 66.0),
    (650, 64.5), (657, 69.0), (666, 64.0), (676, 66.0), (685, 68.0), (698, 70.5), (712, 68.0),
    (721, 66.0), (732, 67.0), (740, 71.5), (752, 63.0), (768, 64.5), (786, 67.0), (795, 66.0),
    (806, 64.0), (817, 66.5), (835, 64.0), (842, 63.0), (856, 66.0), (862, 65.0), (878, 62.5),
    (892, 63.5), (905, 62.0), (915, 61.5), (935, 61.5), (960, 62.0), (1000, 61.5), (1010, 62.5),
    (1040, 61.8), (1100, 61.5), (1175, 61.0), (1210, 61.0), (1270, 61.0), (1318, 64.0),
    (1328, 61.0), (1380, 61.2), (1420, 61.2),
]

BG = "#fff7dc"


def to_time(minutes):
    return START + pd.to_timedelta(np.asarray(minutes, dtype=float), unit="min")


def series(*parts):
    # parts: (minutes, values) pairs, joined and sorted by time
    mins = np.concatenate([np.asarray(m, float) for m, _ in parts])
    vals = np.concatenate([np.asarray(v, float) for _, v in parts])
    df = pd.DataFrame({"minute": mins, "level": vals}).sort_values("minute", kind="stable")
    df["time"] = to_time(df["minute"])
    return df


def style_axis(ax, fmt):
    ax.set_facecolor(BG)
    ax.set_ylim(24, 108)
    ax.set_xlim(START, START + pd.Timedelta(minutes=1439.5))
    ax.yaxis.set_major_locator(MultipleLocator(12))
    ax.yaxis.set_minor_locator(MultipleLocator(4))
    ax.xaxis.set_major_locator(mdates.HourLocator(byhour=range(0, 24, 2)))
    ax.xaxis.set_minor_locator(mdates.MinuteLocator(byminute=[0, 30]))
    ax.xaxis.set_major_formatter(mdates.DateFormatter(fmt))
    ax.xaxis.get_offset_text().set_visible(False)
    ax.grid(which="major", color="#a8a8a8", lw=1.3, ls="-")
    ax.grid(which="minor", color="#c4c4c4", lw=0.8, ls="--")
    ax.set_axisbelow(True)
    ax.tick_params(which="major", length=6, width=0.8, labelsize=7.5, colors="#222222")
    ax.tick_params(which="minor", length=3, width=0.8)
    for sp in ax.spines.values():
        sp.set_linewidth(1.3)
        sp.set_color("black")
    ax.set_xlabel("time", fontsize=10.5, labelpad=1)
    ax.set_ylabel("dB SPL", fontsize=10.5, labelpad=2)
    sec = ax.secondary_yaxis("right")
    sec.yaxis.set_major_locator(MultipleLocator(12))
    sec.yaxis.set_minor_locator(MultipleLocator(4))
    sec.tick_params(which="major", length=6, width=0.8, labelsize=7.5, colors="#222222")
    sec.tick_params(which="minor", length=3, width=0.8)
    sec.set_ylabel("dB SPL", fontsize=10.5, labelpad=2)


fig = plt.figure(figsize=(24, 12), dpi=100)
fig.text(0.0104, 0.99, "data from [421/mic0]\nstarting point is [20251209_000011]",
         fontsize=11, fontweight="bold", va="top", ha="left", linespacing=1.05)

# ---- top panel ----
ax1 = fig.add_axes([0.0246, 0.51, 0.9517, 0.42])
style_axis(ax1, "%H:%M")
ax1.set_title("average and peak noise level (1 min sampling)", loc="left",
              fontsize=9.5, fontweight="bold", pad=7)

peak_sets = [
    (peak_z, peak_z_mid, peak_z_extra, "#2f95f0"),
    (peak_c, peak_c_mid, peak_c_extra, "#ff33ee"),
    (peak_a, peak_a_mid, peak_a_extra, "#3a8f5a"),
]
for base, mid, extra, col in peak_sets:
    ex_min, ex_val = zip(*extra)
    df = series((BASE_MIN, base), (MID_MIN, mid), (ex_min, ex_val))
    sns.scatterplot(data=df, x="time", y="level", ax=ax1, marker="+", s=14,
                    color=col, linewidth=0.9, legend=False, zorder=3)

line_sets = [
    (series((BASE_MIN, avg_z), (MID_MIN, avg_z_mid), (zc_spike_min, zc_spike_z)), "#4682b4"),
    (series((BASE_MIN, avg_c), (MID_MIN, avg_c_mid), (zc_spike_min, zc_spike_c)), "#da70d6"),
    (series((BASE_MIN, avg_a), (MID_MIN, avg_a_mid), (a_spike_min, a_spike_val)), "#9acd32"),
]
for df, col in line_sets:
    sns.lineplot(data=df, x="time", y="level", ax=ax1, color=col, lw=1.3,
                 estimator=None, legend=False, zorder=4)

handles1 = [
    Line2D([], [], ls="", marker="o", ms=4.5, color="#2f95f0", label="peak dB(Z)"),
    Line2D([], [], ls="", marker="o", ms=4.5, color="#ff33ee", label="peak dB(C)"),
    Line2D([], [], ls="", marker="o", ms=4.5, color="#3a8f5a", label="peak dB(A)"),
    Line2D([], [], lw=3, color="#4682b4", label="avg dB(Z)"),
    Line2D([], [], lw=3, color="#da70d6", label="avg dB(C)"),
    Line2D([], [], lw=3, color="#9acd32", label="avg dB(A)"),
]
leg1 = ax1.legend(handles=handles1, loc="lower right", ncol=2, fontsize=8.5,
                  facecolor=BG, edgecolor="#e2c48f", framealpha=0.9,
                  columnspacing=1.8, handlelength=2.2, borderpad=0.5)
leg1.set_zorder(10)

# ---- bottom panel ----
ax2 = fig.add_axes([0.0246, 0.0425, 0.9517, 0.4208])
style_axis(ax2, "%H:%M:%S")
ax2.set_title("average noise level (5 min with 15s min/max dB envelope)", loc="left",
              fontsize=9.5, fontweight="bold", pad=7)

env_t = to_time(ENV_MIN)
ax2.fill_between(env_t, env_lo, env_hi, color="#f7b99b", alpha=0.45, lw=0, zorder=2)
spk_min, spk_val = zip(*env_spikes)
ax2.vlines(to_time(spk_min), 59.0, spk_val, color="#f7b99b", alpha=0.6, lw=1.2, zorder=2)

bottom_sets = [
    (series((BASE_MIN, avg5_z), (avg5_spike_min, avg5_spike_z)), "#dc143c", 1.6),
    (series((BASE_MIN, avg5_c), (avg5_spike_min, avg5_spike_c)), "#ff8c00", 1.5),
    (series((BASE_MIN, avg5_a), (MID_MIN, avg5_a_mid),
            (avg5_a_spike_min, avg5_a_spike_val)), "#ffd700", 1.5),
]
for df, col, lw in bottom_sets:
    sns.lineplot(data=df, x="time", y="level", ax=ax2, color=col, lw=lw,
                 estimator=None, legend=False, zorder=4)

handles2 = [
    Line2D([], [], lw=3, color="#dc143c", label="dB(Z)"),
    Line2D([], [], lw=3, color="#ff8c00", label="dB(C)"),
    Line2D([], [], lw=3, color="#ffd700", label="dB(A)"),
]
leg2 = ax2.legend(handles=handles2, loc="lower right", fontsize=8.5, facecolor=BG,
                  edgecolor="#e2c48f", framealpha=0.9, handlelength=2.2, borderpad=0.5)
leg2.set_zorder(10)

fig.savefig("out.png", dpi=100, facecolor="white")
